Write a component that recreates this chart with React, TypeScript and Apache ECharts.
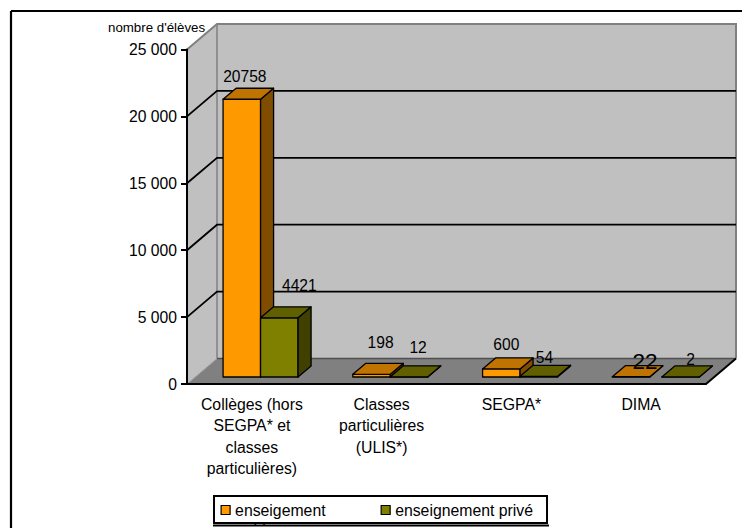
import React, { useEffect, useRef } from "react";
import * as echarts from "echarts";

const categories = [
  "Collèges (hors\nSEGPA* et\nclasses\nparticulières)",
  "Classes\nparticulières\n(ULIS*)",
  "SEGPA*",
  "DIMA",
];
const publicValues = [20758, 198, 600, 22];
const privateValues = [4421, 12, 54, 2];
const yTicks = [0, 5000, 10000, 15000, 20000, 25000];
const yTickLabels = ["0", "5 000", "10 000", "15 000", "20 000", "25 000"];
const publicName = "enseigement";
const privateName = "enseignement privé";

// Look of the pseudo-3D box, kept apart from the data
const FONT = "'Liberation Sans', Arial, sans-serif";
const DEPTH_X = 30;
const DEPTH_Y = 25.5;
const BAR_W = 37.5;
const BAR_SHIFT_X = 8.7;
const BAR_SHIFT_Y = 7;
const BAR_DX = 13;
const BAR_DY = 11;
const publicNudge = [[3, -29.6], [9, -38.7], [5, -31], [14, -22]];
const privateNudge = [[20, -39.8], [9, -36.5], [5.7, -26], [10, -24.7]];
const publicLabelSize = [15.6, 15.6, 15.6, 22.5];
const privateLabelSize = [15.6, 15.6, 15.6, 15.6];
const privateBarOffset = [0, 0, 0, 12];

function barRenderer(first: boolean, front: string, top: string, side: string, nudge: number[][], sizes: number[], barOffset?: number[]) {
  return (params: any, api: any) => {
    const i = api.value(0);
    const v = api.value(1);
    const p = api.coord([i, v]);
    const base = api.coord([i, 0]);
    const extra = barOffset ? barOffset[i] : 0;
    const x0 = p[0] + BAR_SHIFT_X + (first ? -BAR_W : 0) + extra;
    const x1 = x0 + BAR_W;
    const yT = p[1] - BAR_SHIFT_Y;
    const yB = base[1] - BAR_SHIFT_Y;
    const stroke = { stroke: "#000", lineWidth: 1.3, lineJoin: "round" };
    return {
      type: "group",
      children: [
        { type: "polygon", shape: { points: [[x0, yT], [x1, yT], [x1, yB], [x0, yB]] }, style: { fill: front, ...stroke } },
        { type: "polygon", shape: { points: [[x1, yT], [x1 + BAR_DX, yT - BAR_DY], [x1 + BAR_DX, yB - BAR_DY], [x1, yB]] }, style: { fill: side, ...stroke } },
        { type: "polygon", shape: { points: [[x0, yT], [x0 + BAR_DX, yT - BAR_DY], [x1 + BAR_DX, yT - BAR_DY], [x1, yT]] }, style: { fill: top, ...stroke } },
        {
          type: "text",
          style: {
            text: String(v),
            x: (x0 + x1) / 2 + nudge[i][0],
            y: p[1] + nudge[i][1],
            align: "center",
            verticalAlign: "middle",
            fontSize: sizes[i],
            fontFamily: FONT,
            fill: "#000",
          },
        },
      ],
    };
  };
}

export default function App() {
  const ref = useRef<HTMLDivElement>(null);
  useEffect(() => {
    const chart = echarts.init(ref.current!, undefined, { renderer: "svg" });
    chart.setOption({
      animation: false,
      backgroundColor: "#fff",
      grid: { left: 187, top: 49.5, width: 519, height: 334.5 },
      xAxis: {
        type: "category",
        data: categories,
        z: 3,
        axisLine: { lineStyle: { color: "#000", width: 2 } },
        axisTick: { length: 6, alignWithLabel: false, lineStyle: { color: "#000", width: 2 } },
        axisLabel: { interval: 0, color: "#000", fontSize: 15.8, fontFamily: FONT, lineHeight: 21.3, margin: 10 },
      },
      yAxis: {
        type: "value",
        min: 0,
        max: 25000,
        interval: 5000,
        z: 3,
        splitLine: { show: false },
        axisLine: { show: true, lineStyle: { color: "#000", width: 2 } },
        axisTick: { show: true, length: 6, lineStyle: { color: "#000", width: 2 } },
        axisLabel: {
          color: "#000",
          fontSize: 15.7,
          fontFamily: FONT,
          margin: 10,
          formatter: (v: number) => yTickLabels[yTicks.indexOf(v)],
        },
      },
      legend: {
        left: 214,
        top: 496,
        padding: [6, 14, 5, 6.5],
        itemWidth: 9,
        itemHeight: 9,
        itemGap: 55,
        icon: "rect",
        backgroundColor: "#fff",
        borderColor: "#000",
        borderWidth: 2,
        data: [publicName, privateName],
        textStyle: { color: "#000", fontSize: 15.8, fontFamily: FONT },
        itemStyle: { borderColor: "#000", borderWidth: 1.2 },
      },
      series: [
        {
          type: "custom",
          name: "walls",
          z: 1,
          silent: true,
          data: [[0, 0]],
          renderItem: (params: any, api: any) => {
            const { x, y, width, height } = params.coordSys;
            const b = y + height;
            const r = x + width;
            return {
              type: "group",
              children: [
                { type: "polygon", shape: { points: [[x, b], [x + DEPTH_X, b - DEPTH_Y], [x + DEPTH_X, y - DEPTH_Y], [x, y]] }, style: { fill: "#c0c0c0" } },
                { type: "polygon", shape: { points: [[x + DEPTH_X, b - DEPTH_Y], [r + DEPTH_X, b - DEPTH_Y], [r + DEPTH_X, y - DEPTH_Y], [x + DEPTH_X, y - DEPTH_Y]] }, style: { fill: "#c0c0c0" } },
                { type: "polygon", shape: { points: [[x, b], [r, b], [r + DEPTH_X, b - DEPTH_Y], [x + DEPTH_X, b - DEPTH_Y]] }, style: { fill: "#808080" } },
                { type: "polyline", shape: { points: [[x, y], [x + DEPTH_X, y - DEPTH_Y], [r + DEPTH_X, y - DEPTH_Y], [r + DEPTH_X, b - DEPTH_Y]] }, style: { fill: "none", stroke: "#808080", lineWidth: 2 } },
                { type: "line", shape: { x1: x + DEPTH_X, y1: y - DEPTH_Y, x2: x + DEPTH_X, y2: b - DEPTH_Y }, style: { stroke: "#808080", lineWidth: 1.5 } },
                { type: "line", shape: { x1: x, y1: b, x2: x + DEPTH_X, y2: b - DEPTH_Y }, style: { stroke: "#a0a0a0", lineWidth: 1 } },
                { type: "line", shape: { x1: x + DEPTH_X, y1: b - DEPTH_Y, x2: r + DEPTH_X, y2: b - DEPTH_Y }, style: { stroke: "#505050", lineWidth: 1.5 } },
                { type: "line", shape: { x1: r, y1: b, x2: r + DEPTH_X, y2: b - DEPTH_Y }, style: { stroke: "#000", lineWidth: 2 } },
              ],
            };
          },
        },
        {
          type: "custom",
          name: "grid",
          z: 2,
          silent: true,
          data: yTicks.slice(1, -1).map((t) => [0, t]),
          renderItem: (params: any, api: any) => {
            const { x, width } = params.coordSys;
            const yy = api.coord([0, api.value(1)])[1];
            return {
              type: "polyline",
              shape: { points: [[x, yy], [x + DEPTH_X, yy - DEPTH_Y], [x + width + DEPTH_X, yy - DEPTH_Y]] },
              style: { fill: "none", stroke: "#000", lineWidth: 1.8 },
            };
          },
        },
        {
          type: "custom",
          name: publicName,
          z: 4,
          itemStyle: { color: "#ff9900" },
          data: publicValues.map((v, i) => [i, v]),
          renderItem: barRenderer(true, "#ff9900", "#bf7300", "#7f4c00", publicNudge, publicLabelSize),
        },
        {
          type: "custom",
          name: privateName,
          z: 5,
          itemStyle: { color: "#808000" },
          data: privateValues.map((v, i) => [i, v]),
          renderItem: barRenderer(false, "#808000", "#606000", "#404000", privateNudge, privateLabelSize, privateBarOffset),
        },
      ],
      graphic: [
        { type: "line", z: 10, shape: { x1: 11, y1: 11, x2: 742, y2: 11 }, style: { stroke: "#000", lineWidth: 2.2 } },
        { type: "line", z: 10, shape: { x1: 11, y1: 11, x2: 11, y2: 528 }, style: { stroke: "#000", lineWidth: 2.2 } },
        { type: "text", z: 10, x: 108, y: 21, style: { text: "nombre d'élèves", fontSize: 13.3, fontFamily: FONT, fill: "#000" } },
        { type: "text", z: 10, x: 236, y: 520.5, style: { text: "public", fontSize: 15.8, fontFamily: FONT, fill: "#000" } },
        { type: "rect", z: 11, shape: { x: 213, y: 526, width: 336, height: 2 }, style: { fill: "#fff" } },
        { type: "line", z: 12, shape: { x1: 213, y1: 525.5, x2: 549, y2: 525.5 }, style: { stroke: "#000", lineWidth: 2 } },
      ],
    });
    return () => chart.dispose();
  }, []);
  return <div ref={ref} style={{ position: "fixed", left: 0, top: 0, width: 742, height: 528 }} />;
}
